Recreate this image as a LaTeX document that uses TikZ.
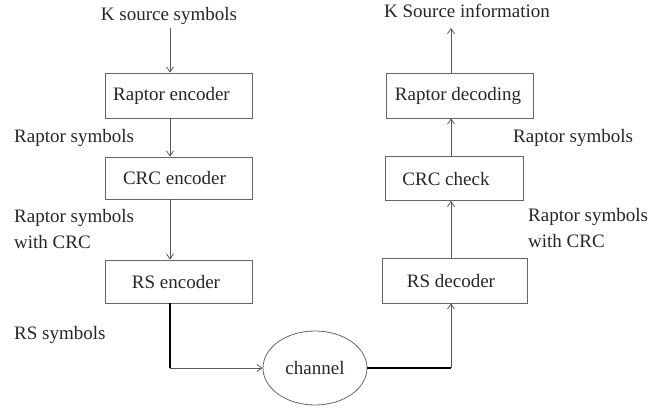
\documentclass[tikz,border=0pt]{standalone}
\usepackage{fontspec}
\setmainfont{Liberation Serif}
\usetikzlibrary{arrows.meta,shapes.geometric}
\begin{document}
\begin{tikzpicture}[x=1pt,y=-1pt,
  lbl/.style={font=\fontsize{19}{26}\selectfont, inner sep=0pt, text=black!85},
  blk/.style={draw=black!60, line width=0.8pt, inner sep=0pt},
  arr/.style={draw=black!65, line width=0.8pt, -{Straight Barb[length=5pt,width=7pt]}},
  thickline/.style={line width=2.4pt, draw=black}]
\useasboundingbox (0,0) rectangle (652,410);
% coordinates for the connector columns
\coordinate (lx) at (170,0);
\coordinate (rx) at (451,0);
\coordinate (ltop) at (170,28);
\coordinate (rtop) at (451,28);
% left column boxes
\node[blk, minimum width=147pt, minimum height=45pt] (renc) at (178.5,95.5) {};
\node[blk, minimum width=147pt, minimum height=42pt] (crcenc) at (178.5,178) {};
\node[blk, minimum width=147pt, minimum height=43pt] (rsenc) at (178.5,281.5) {};
\node[lbl] (renct) at (171.5,95.5) {Raptor encoder};
\node[lbl] (crcenct) at (174.5,178) {CRC encoder};
\node[lbl] (rsenct) at (176,281.5) {RS encoder};
% right column boxes
\node[blk, minimum width=147pt, minimum height=45pt] (rdec) at (459.5,95.5) {};
\node[blk, minimum width=138pt, minimum height=44pt] (crcchk) at (454,178.5) {};
\node[blk, minimum width=145pt, minimum height=45pt] (rsdec) at (454.5,280.5) {};
\node[lbl] (rdect) at (458,95.5) {Raptor decoding};
\node[lbl] (crcchkt) at (446,178.5) {CRC check};
\node[lbl] (rsdect) at (451,280.5) {RS decoder};
% channel
\node[ellipse, draw=black!60, line width=0.8pt, minimum width=104pt, minimum height=74pt, inner sep=0pt] (ch) at (315,368) {};
\node[lbl] (cht) at (315,368) {channel};
% labels
\node[lbl] (ksrc) at (169,16) {K source symbols};
\node[lbl] (ksi) at (467,11) {K Source information};
\node[lbl, anchor=west] (rs1) at (14,138) {Raptor symbols};
\node[lbl, anchor=west, align=left] (rsc1) at (14,229) {Raptor symbols\\with CRC};
\node[lbl, anchor=west] (rssym) at (14,335) {RS symbols};
\node[lbl, anchor=west] (rs2) at (513,138) {Raptor symbols};
\node[lbl, anchor=west, align=left] (rsc2) at (528,228) {Raptor symbols\\with CRC};
% connectors, left
\draw[arr] (ltop) -- (renc.north -| lx);
\draw[arr] (renc.south -| lx) -- (crcenc.north -| lx);
\draw[arr] (crcenc.south -| lx) -- (rsenc.north -| lx);
\draw[thickline] (rsenc.south -| lx) -- (ch.west -| lx);
\draw[arr] (ch.west -| lx) -- (ch.west);
% connectors, right
\draw[thickline] (ch.east) -- (ch.east -| rx);
\draw[arr] (ch.east -| rx) -- (rsdec.south -| rx);
\draw[arr] (rsdec.north -| rx) -- (crcchk.south -| rx);
\draw[arr] (crcchk.north -| rx) -- (rdec.south -| rx);
\draw[arr] (rdec.north -| rx) -- (rtop);
\end{tikzpicture}
\end{document}
